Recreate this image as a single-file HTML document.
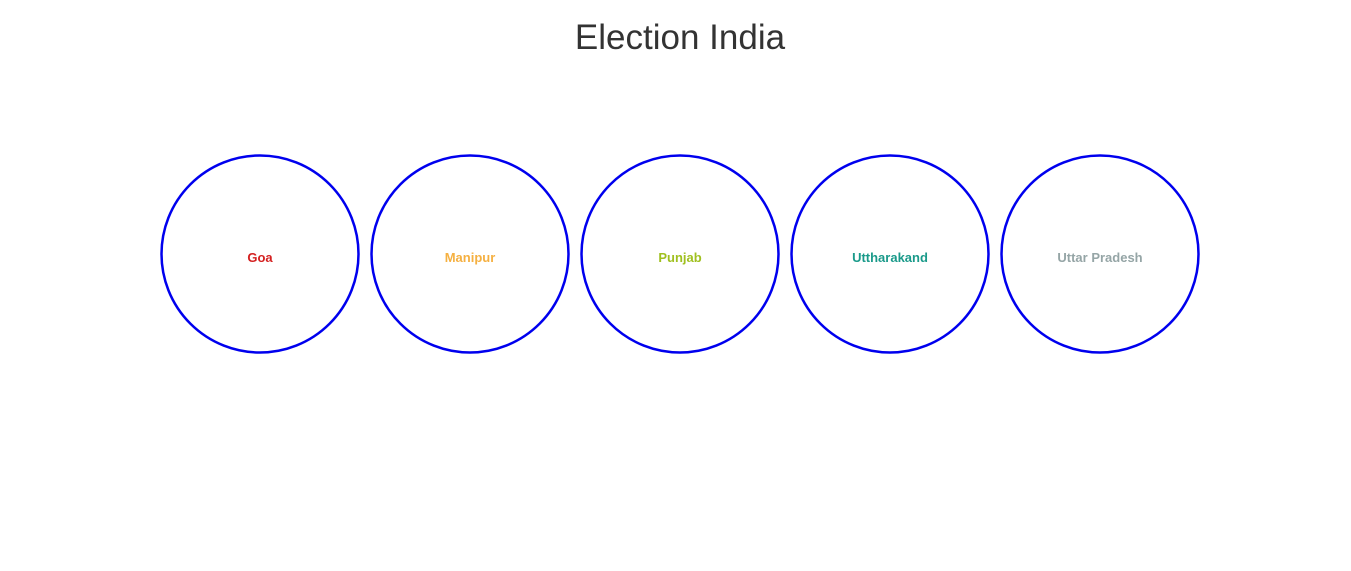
<!DOCTYPE html>
<html><head><meta charset="utf-8"><style>
html,body{margin:0;padding:0;background:#fff;width:1351px;height:571px;overflow:hidden}
svg{display:block}
</style></head><body>
<svg width="1351" height="571" xmlns="http://www.w3.org/2000/svg" font-family="Liberation Sans, sans-serif">
<text x="680" y="49" text-anchor="middle" font-size="35" fill="#333">Election India</text>
<g fill="none" stroke="#0000ee" stroke-width="2.5">
<circle cx="260" cy="254" r="98.5"/>
<circle cx="470" cy="254" r="98.5"/>
<circle cx="680" cy="254" r="98.5"/>
<circle cx="890" cy="254" r="98.5"/>
<circle cx="1100" cy="254" r="98.5"/>
</g>
<g font-size="13" font-weight="bold" text-anchor="middle">
<text x="260" y="262" fill="#d42020">Goa</text>
<text x="470" y="262" fill="#f5b041">Manipur</text>
<text x="680" y="262" fill="#a0c020">Punjab</text>
<text x="890" y="262" fill="#1a9a8a">Uttharakand</text>
<text x="1100" y="262" fill="#95a5a6">Uttar Pradesh</text>
</g>
</svg>
</body></html>
